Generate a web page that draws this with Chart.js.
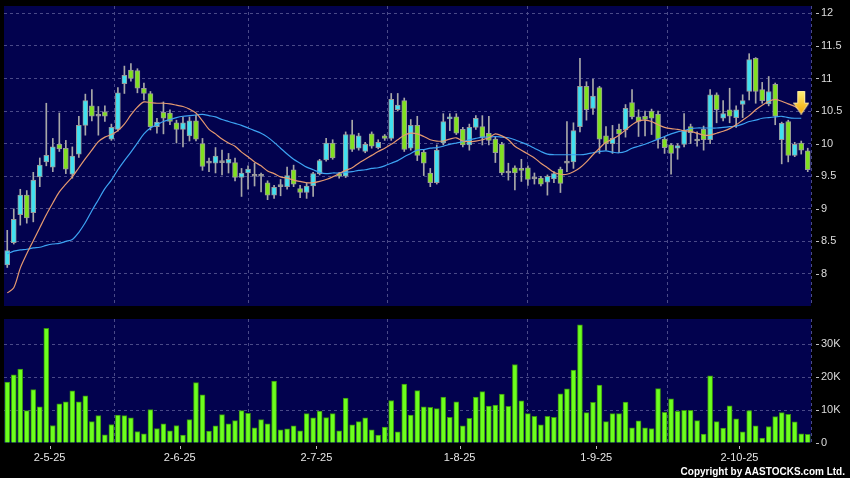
<!DOCTYPE html>
<html>
<head>
<meta charset="utf-8">
<script src="https://cdn.jsdelivr.net/npm/chart.js@4.4.1/dist/chart.umd.min.js"></script>
<style>
    html, body { margin: 0; padding: 0; background: #000; }
    #wrap { position: relative; width: 850px; height: 478px; background: #000; overflow: hidden; }
    #priceBox { position: absolute; left: 0; top: 0; }
    #volBox { position: absolute; left: 0; top: 310px; }
    #copy { position: absolute; right: 5px; top: 466px; color: #fff; font: bold 10px "Liberation Sans", Arial, sans-serif; white-space: nowrap; }
</style>
</head>
<body>
<div id="wrap">
    <div id="priceBox"><canvas id="priceChart" width="850" height="310"></canvas></div>
    <div id="volBox"><canvas id="volChart" width="850" height="168"></canvas></div>
    <div id="copy">Copyright by AASTOCKS.com Ltd.</div>
</div>
<script>
// month labels on the x axis and the trading-day index they belong to
const tickLabels = ['2-5-25', '2-6-25', '2-7-25', '1-8-25', '1-9-25', '2-10-25'];
const monthStart = [6, 26, 47, 69, 90, 112];

const open = [8.14, 8.48, 8.91, 9.21, 8.94, 9.49, 9.72, 9.64, 9.99, 9.93,
    9.53, 9.84, 10.28, 10.58, 10.42, 10.49, 10.07, 10.22, 10.92, 11.13,
    11.12, 10.85, 10.77, 10.26, 10.48, 10.47, 10.32, 10.22, 10.12, 10.35,
    10.00, 9.70, 9.70, 9.71, 9.70, 9.71, 9.48, 9.55, 9.50, 9.50,
    9.40, 9.21, 9.34, 9.34, 9.60, 9.31, 9.25, 9.35, 9.54, 9.75,
    10.01, 9.54, 9.50, 10.14, 9.93, 9.88, 10.15, 9.94, 10.12, 10.08,
    10.52, 10.66, 9.93, 10.28, 9.87, 9.55, 9.40, 10.01, 10.38, 10.41,
    10.22, 9.98, 10.25, 10.26, 10.16, 10.07, 9.99, 9.55, 9.63, 9.61,
    9.63, 9.46, 9.47, 9.41, 9.46, 9.61, 9.70, 9.72, 10.26, 10.88,
    10.54, 10.86, 10.12, 10.00, 10.22, 10.21, 10.63, 10.41, 10.42, 10.50,
    10.45, 10.07, 9.98, 9.93, 9.99, 10.26, 10.04, 10.22, 10.06, 10.75,
    10.39, 10.52, 10.40, 10.60, 10.80, 11.31, 10.83, 10.61, 10.91, 10.06,
    10.34, 9.82, 10.01, 9.89];

const high = [8.67, 9.00, 9.30, 9.28, 9.56, 9.78, 10.62, 10.08, 10.47, 10.05,
    9.95, 10.42, 10.76, 10.83, 10.57, 10.58, 10.30, 10.86, 11.19, 11.23,
    11.15, 10.93, 10.80, 10.39, 10.64, 10.52, 10.36, 10.41, 10.41, 10.44,
    10.08, 9.78, 9.94, 9.90, 9.85, 9.78, 9.62, 9.66, 9.70, 9.55,
    9.43, 9.36, 9.45, 9.64, 9.67, 9.36, 9.40, 9.56, 9.76, 10.08,
    10.06, 9.56, 10.18, 10.36, 10.16, 10.02, 10.18, 10.06, 10.14, 10.77,
    10.77, 10.70, 10.37, 10.42, 9.90, 9.62, 9.98, 10.46, 10.46, 10.46,
    10.25, 10.30, 10.43, 10.43, 10.42, 10.10, 10.02, 9.70, 9.66, 9.76,
    9.66, 9.55, 9.50, 9.52, 9.57, 9.64, 10.34, 10.32, 11.31, 10.95,
    10.99, 10.88, 10.26, 10.28, 10.30, 10.60, 10.83, 10.52, 10.50, 10.53,
    10.50, 10.10, 10.00, 10.00, 10.46, 10.30, 10.18, 10.27, 10.83, 10.78,
    10.66, 10.85, 10.58, 10.75, 11.38, 11.32, 10.94, 11.03, 10.93, 10.33,
    10.36, 10.02, 10.04, 9.93];

const low = [8.10, 8.46, 8.75, 8.78, 8.80, 9.34, 9.66, 9.57, 9.88, 9.54,
    9.47, 9.79, 10.13, 10.35, 10.13, 10.34, 10.05, 10.19, 10.77, 10.96,
    10.78, 10.67, 10.21, 10.16, 10.15, 10.29, 10.01, 9.95, 10.04, 10.04,
    9.59, 9.57, 9.55, 9.52, 9.55, 9.43, 9.19, 9.30, 9.35, 9.26,
    9.14, 9.16, 9.20, 9.30, 9.34, 9.17, 9.16, 9.19, 9.52, 9.73,
    9.76, 9.47, 9.48, 9.88, 9.90, 9.86, 9.93, 9.92, 10.05, 10.05,
    10.50, 9.88, 9.90, 9.74, 9.51, 9.34, 9.38, 9.98, 10.20, 10.14,
    9.95, 9.90, 10.22, 9.98, 9.98, 9.71, 9.52, 9.44, 9.29, 9.42,
    9.36, 9.38, 9.35, 9.21, 9.40, 9.25, 9.57, 9.62, 10.18, 10.36,
    10.45, 9.85, 9.90, 9.85, 9.86, 10.10, 10.38, 10.11, 10.12, 10.14,
    9.93, 9.85, 9.53, 9.76, 9.95, 10.00, 9.96, 9.90, 10.00, 10.32,
    10.35, 10.32, 10.25, 10.40, 10.67, 10.62, 10.62, 10.58, 10.29, 9.69,
    9.72, 9.80, 9.84, 9.57];

const close = [8.36, 8.84, 9.21, 8.86, 9.44, 9.67, 9.82, 9.95, 9.92, 9.61,
    9.81, 10.28, 10.66, 10.42, 10.42, 10.42, 10.25, 10.78, 11.05, 11.00,
    10.85, 10.77, 10.26, 10.33, 10.39, 10.34, 10.22, 10.32, 10.35, 10.07,
    9.65, 9.70, 9.81, 9.71, 9.76, 9.48, 9.55, 9.61, 9.50, 9.50,
    9.21, 9.33, 9.34, 9.51, 9.38, 9.25, 9.35, 9.54, 9.74, 10.01,
    9.78, 9.50, 10.14, 9.91, 10.12, 9.99, 9.96, 10.02, 10.08, 10.68,
    10.59, 9.91, 10.28, 9.82, 9.70, 9.40, 9.90, 10.34, 10.41, 10.16,
    9.98, 10.25, 10.39, 10.10, 10.05, 9.86, 9.55, 9.55, 9.55, 9.59,
    9.45, 9.46, 9.38, 9.50, 9.54, 9.39, 9.70, 10.20, 10.88, 10.52,
    10.73, 10.07, 10.00, 10.08, 10.15, 10.54, 10.41, 10.34, 10.37, 10.39,
    10.07, 9.94, 9.85, 9.97, 10.20, 10.17, 10.04, 10.06, 10.75, 10.52,
    10.46, 10.42, 10.52, 10.66, 11.29, 10.80, 10.66, 10.80, 10.42, 10.31,
    9.82, 9.99, 9.90, 9.60];

// moving averages (orange = 10 day, blue = 20 day)
const ma10 = [7.71, 7.79, 8.09, 8.31, 8.51, 8.71, 8.91, 9.09, 9.26, 9.38,
    9.49, 9.63, 9.77, 9.90, 10.03, 10.10, 10.14, 10.20, 10.30, 10.44,
    10.56, 10.64, 10.63, 10.62, 10.62, 10.61, 10.59, 10.57, 10.53, 10.47,
    10.35, 10.22, 10.15, 10.07, 10.01, 9.96, 9.87, 9.80, 9.72, 9.66,
    9.58, 9.54, 9.49, 9.47, 9.44, 9.42, 9.40, 9.40, 9.42, 9.45,
    9.49, 9.54, 9.59, 9.63, 9.70, 9.76, 9.82, 9.88, 9.93, 9.99,
    10.06, 10.13, 10.16, 10.15, 10.11, 10.06, 10.04, 10.04, 10.07, 10.09,
    10.04, 10.03, 10.04, 10.06, 10.09, 10.15, 10.12, 10.06, 9.96, 9.90,
    9.84, 9.78, 9.70, 9.63, 9.56, 9.53, 9.53, 9.57, 9.63, 9.72,
    9.83, 9.93, 10.02, 10.07, 10.13, 10.21, 10.29, 10.35, 10.36, 10.34,
    10.29, 10.25, 10.23, 10.22, 10.20, 10.19, 10.16, 10.13, 10.13, 10.16,
    10.19, 10.23, 10.29, 10.36, 10.43, 10.52, 10.59, 10.65, 10.68, 10.65,
    10.61, 10.57, 10.51, null];

const ma20 = [8.31, 8.35, 8.37, 8.38, 8.40, 8.41, 8.44, 8.46, 8.47, 8.50,
    8.53, 8.64, 8.79, 8.97, 9.14, 9.31, 9.44, 9.60, 9.74, 9.87,
    10.01, 10.15, 10.24, 10.29, 10.34, 10.37, 10.40, 10.42, 10.43, 10.44,
    10.45, 10.43, 10.41, 10.37, 10.34, 10.31, 10.28, 10.24, 10.20, 10.16,
    10.10, 10.02, 9.93, 9.84, 9.76, 9.70, 9.64, 9.60, 9.56, 9.54,
    9.55, 9.55, 9.56, 9.57, 9.59, 9.60, 9.62, 9.63, 9.66, 9.70,
    9.74, 9.80, 9.85, 9.90, 9.91, 9.93, 9.94, 9.96, 9.99, 10.01,
    10.03, 10.06, 10.08, 10.10, 10.10, 10.11, 10.10, 10.09, 10.06, 10.02,
    9.98, 9.93, 9.88, 9.84, 9.83, 9.83, 9.83, 9.83, 9.83, 9.84,
    9.86, 9.88, 9.89, 9.87, 9.86, 9.88, 9.93, 9.96, 9.99, 10.03,
    10.07, 10.11, 10.15, 10.18, 10.20, 10.23, 10.24, 10.24, 10.24, 10.24,
    10.25, 10.26, 10.27, 10.30, 10.34, 10.36, 10.39, 10.40, 10.41, 10.42,
    10.40, 10.39, 10.39, null];

// volume in thousands
const volume = [18.5, 20.7, 22.4, 9.8, 16.2, 11.0, 34.8, 5.3, 11.9, 12.5,
    15.8, 12.5, 14.3, 6.5, 8.3, 2.5, 5.6, 8.5, 8.3, 7.6,
    3.5, 2.8, 10.1, 4.4, 5.8, 3.7, 5.3, 2.4, 7.1, 18.3,
    14.6, 3.6, 5.2, 8.6, 5.8, 6.8, 9.8, 9.0, 4.6, 7.1,
    5.8, 18.8, 4.0, 4.3, 5.2, 3.7, 8.9, 7.6, 9.7, 7.7,
    8.9, 3.7, 13.6, 5.5, 6.5, 7.6, 4.0, 2.4, 4.8, 12.9,
    3.4, 17.9, 8.5, 15.9, 11.0, 10.8, 10.4, 13.9, 7.8, 12.5,
    5.2, 7.5, 13.9, 15.6, 11.2, 11.5, 14.8, 11.1, 23.8, 12.8,
    8.9, 8.1, 5.5, 8.1, 7.8, 14.9, 16.4, 22.1, 35.8, 9.2,
    12.3, 17.6, 6.5, 8.9, 8.9, 12.4, 4.6, 6.7, 4.6, 4.4,
    16.5, 9.3, 13.4, 9.6, 9.9, 9.9, 6.8, 2.7, 20.4, 6.5,
    4.5, 11.3, 7.3, 3.4, 9.8, 5.2, 1.5, 5.0, 8.0, 9.2,
    8.7, 6.4, 2.8, 2.6];

// sell signal arrow
const signalIdx = [122];
const signalPrice = [10.63];

const FONT = '"Liberation Sans", Arial, sans-serif';
const GRID = '#4a4a88';
const PANEL = '#02024e';
const UP = '#40e0f0';
const DOWN = '#80e020';
const FLAT = '#9a9a9a';

function candleColor(i) {
    if (close[i] > open[i]) return UP;
    if (close[i] < open[i]) return DOWN;
    return FLAT;
}

function makeArrow() {
    const cv = document.createElement('canvas');
    cv.width = 16;
    cv.height = 24;
    const g = cv.getContext('2d');
    const grad = g.createLinearGradient(0, 0, 0, 24);
    grad.addColorStop(0, '#fff27a');
    grad.addColorStop(1, '#f3a400');
    g.fillStyle = grad;
    g.strokeStyle = '#ffe9a8';
    g.lineWidth = 1;
    g.beginPath();
    g.moveTo(4.5, 0.5);
    g.lineTo(11.5, 0.5);
    g.lineTo(11.5, 12.5);
    g.lineTo(15.5, 12.5);
    g.lineTo(8, 23.5);
    g.lineTo(0.5, 12.5);
    g.lineTo(4.5, 12.5);
    g.closePath();
    g.fill();
    g.stroke();
    return cv;
}

const panelBg = {
    id: 'panelBg',
    beforeDraw: (chart) => {
        const a = chart.chartArea;
        const ctx = chart.ctx;
        ctx.save();
        ctx.fillStyle = PANEL;
        ctx.fillRect(a.left, a.top, a.right - a.left, a.bottom - a.top);
        ctx.restore();
    }
};

// small tick marks sitting a few pixels away from the panel edge
const tickMarks = {
    id: 'tickMarks',
    afterDraw: (chart, args, opts) => {
        const a = chart.chartArea;
        const ctx = chart.ctx;
        ctx.save();
        ctx.strokeStyle = '#c0c0c0';
        ctx.lineWidth = 1;
        const ys = chart.scales.y;
        ys.ticks.forEach((t, i) => {
            const py = Math.round(ys.getPixelForTick(i)) + 0.5;
            ctx.beginPath();
            ctx.moveTo(a.right + 5, py);
            ctx.lineTo(a.right + 8, py);
            ctx.stroke();
        });
        if (opts.xMarks) {
            const xs = chart.scales.x;
            xs.ticks.forEach((t, i) => {
                const px = Math.round(xs.getPixelForTick(i)) + 0.5;
                ctx.beginPath();
                ctx.moveTo(px, a.bottom + 3);
                ctx.lineTo(px, a.bottom + 6);
                ctx.stroke();
            });
        }
        ctx.restore();
    }
};

function xScale(showLabels) {
    return {
        type: 'linear',
        min: -0.5,
        max: open.length - 0.5,
        offset: false,
        // grid lines and labels sit on the boundary after the first day of the month
        afterBuildTicks: (scale) => {
            scale.ticks = monthStart.map((d) => ({ value: d + 0.5 }));
        },
        afterFit: (scale) => {
            scale.height = showLabels ? 35 : 0;
            scale.paddingLeft = 0;
            scale.paddingRight = 0;
        },
        ticks: {
            display: showLabels,
            autoSkip: false,
            maxRotation: 0,
            minRotation: 0,
            padding: 8,
            color: '#e6e6e6',
            font: { family: FONT, size: 11 },
            callback: (v, idx) => tickLabels[idx]
        },
        grid: { color: GRID, lineWidth: 1, drawTicks: false },
        border: { display: false, dash: [3, 3] }
    };
}

function fixRightAxis(scale) {
    scale.width = 39;
    scale.paddingTop = 0;
    scale.paddingBottom = 0;
}

function init() {
    const arrow = makeArrow();

    const bodies = open.map((o, i) => ({ x: i, y: [o, close[i]] }));
    const wicks = low.map((l, i) => ({ x: i, y: [l, high[i]] }));

    new Chart(document.getElementById('priceChart'), {
        type: 'bar',
        data: {
            datasets: [{
                type: 'line',
                label: 'MA10',
                data: ma10.map((v, i) => ({ x: i, y: v })),
                borderColor: '#e69a70',
                borderWidth: 1.2,
                pointRadius: 0,
                tension: 0.3,
                order: 0
            }, {
                type: 'line',
                label: 'MA20',
                data: ma20.map((v, i) => ({ x: i, y: v })),
                borderColor: '#3da3f2',
                borderWidth: 1.2,
                pointRadius: 0,
                tension: 0.3,
                order: 0
            }, {
                type: 'line',
                label: 'signal',
                data: signalIdx.map((d, i) => ({ x: d, y: signalPrice[i] })),
                showLine: false,
                pointStyle: arrow,
                pointRadius: 8,
                order: -1
            }, {
                label: 'body',
                data: bodies,
                backgroundColor: (ctx) => candleColor(ctx.dataIndex),
                borderColor: '#9a9a9a',
                borderWidth: 1,
                borderSkipped: false,
                barThickness: 5,
                minBarLength: 2,
                grouped: false,
                order: 1
            }, {
                label: 'wick',
                data: wicks,
                backgroundColor: '#a8a8a8',
                borderWidth: 0,
                barThickness: 1,
                grouped: false,
                order: 2
            }]
        },
        options: {
            responsive: false,
            animation: false,
            events: [],
            layout: { autoPadding: false, padding: { left: 4, top: 6, right: 0, bottom: 4 } },
            plugins: {
                legend: { display: false },
                tooltip: { enabled: false },
                tickMarks: { xMarks: false }
            },
            scales: {
                x: xScale(false),
                y: {
                    position: 'right',
                    min: 7.509,
                    max: 12.112,
                    afterFit: fixRightAxis,
                    ticks: {
                        stepSize: 0.5,
                        includeBounds: false,
                        padding: 10,
                        color: '#dcdcdc',
                        font: { family: FONT, size: 11 },
                        callback: (v) => String(v)
                    },
                    grid: { color: GRID, drawTicks: false },
                    border: { display: false, dash: [3, 3] }
                }
            }
        },
        plugins: [panelBg, tickMarks]
    });

    new Chart(document.getElementById('volChart'), {
        type: 'bar',
        data: {
            datasets: [{
                label: 'volume',
                data: volume.map((v, i) => ({ x: i, y: v })),
                backgroundColor: '#6cff1e',
                borderColor: '#3a9210',
                borderWidth: 1,
                borderSkipped: 'start',
                barThickness: 5,
                grouped: false
            }]
        },
        options: {
            responsive: false,
            animation: false,
            events: [],
            layout: { autoPadding: false, padding: { left: 4, top: 9, right: 0, bottom: 0 } },
            plugins: {
                legend: { display: false },
                tooltip: { enabled: false },
                tickMarks: { xMarks: true }
            },
            scales: {
                x: xScale(true),
                y: {
                    position: 'right',
                    min: 0,
                    max: 37.6,
                    afterFit: fixRightAxis,
                    ticks: {
                        stepSize: 10,
                        includeBounds: false,
                        padding: 10,
                        color: '#dcdcdc',
                        font: { family: FONT, size: 11 },
                        callback: (v) => (v === 0 ? '0' : v + 'K')
                    },
                    grid: {
                        color: (ctx) => (ctx.tick && ctx.tick.value === 0 ? 'rgba(0,0,0,0)' : GRID),
                        drawTicks: false
                    },
                    border: { display: false, dash: [3, 3] }
                }
            }
        },
        plugins: [panelBg, tickMarks]
    });
}

init();
</script>
</body>
</html>
